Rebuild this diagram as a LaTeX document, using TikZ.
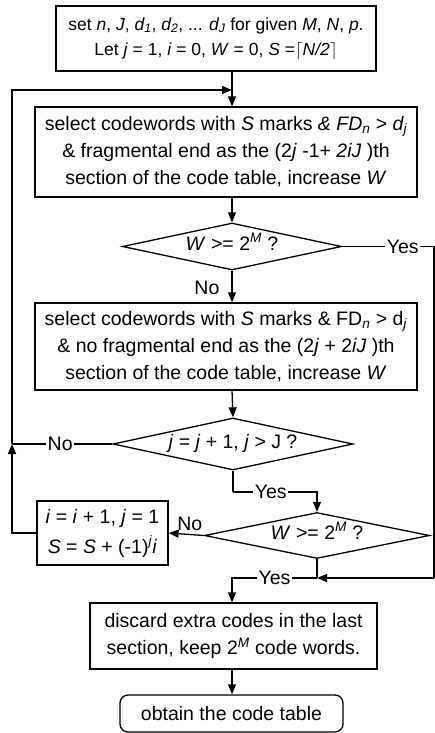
\documentclass[tikz,border=0pt]{standalone}
\usepackage{fontspec}
\setmainfont{Liberation Sans}
\usetikzlibrary{shapes.geometric,arrows.meta}
\newcommand{\iv}[1]{\textit{#1}}
\begin{document}
\begin{tikzpicture}[x=1pt,y=-1pt]
    % styles for the flow chart
    \tikzstyle{every node}=[font=\fontsize{19.5}{27}\selectfont, inner sep=0pt]
    \tikzstyle{procbox}=[draw, line width=1.3pt, align=center]
    \tikzstyle{testbox}=[draw, diamond, line width=1.3pt, align=center, text height=12pt, text depth=4pt]
    \tikzstyle{endbox}=[draw, rounded corners=8pt, line width=1.3pt, align=center]
    \tikzstyle{flow}=[line width=1.3pt, -{Triangle[length=10pt,width=8pt]}]
    \tikzstyle{plain}=[line width=1.3pt]
    \tikzstyle{lbl}=[fill=white, inner xsep=1.5pt]
    \useasboundingbox (0,0) rectangle (435,733);

    % process boxes
    \node[procbox, minimum width=320, minimum height=65, font=\fontsize{17.5}{25}\selectfont] (init) at (216,38.5)
        {set \iv{n}, \iv{J}, \iv{d\textsubscript{1}}, \iv{d\textsubscript{2}}, ... \iv{d\textsubscript{J}} for given \iv{M}, \iv{N}, \iv{p}.\\
         Let \iv{j} = 1, \iv{i} = 0, \iv{W} = 0, \iv{S} =$\lceil$\iv{N/2}$\rceil$};
    \node[procbox, minimum width=382, minimum height=90] (selA) at (226,152)
        {select codewords with \iv{S} marks \iv{\& FD\textsubscript{n}} > \iv{d\textsubscript{j}}\\
         \& fragmental end as the (2\iv{j} -1+ \iv{2iJ} )th\\
         section of the code table, increase \iv{W}};
    \node[testbox, aspect=4.66, minimum width=219, minimum height=47] (testA) at (232,246.5)
        {\iv{W} >= 2\textsuperscript{\iv{M}} ?};
    \node[procbox, minimum width=382, minimum height=87] (selB) at (226,346.5)
        {select codewords with \iv{S} marks \& FD\textsubscript{\iv{n}} > d\textsubscript{\iv{j}}\\
         \& no fragmental end as the (2\iv{j} + 2\iv{iJ} )th\\
         section of the code table, increase \iv{W}};
    \node[testbox, aspect=4.6, minimum width=240, minimum height=52] (testB) at (233,444)
        {\iv{j} = \iv{j} + 1, \iv{j} > J ?};
    \node[testbox, aspect=4.9, minimum width=225, minimum height=46] (testC) at (317,535.5)
        {\iv{W} >= 2\textsuperscript{\iv{M}} ?};
    \node[procbox, minimum width=131, minimum height=64, font=\fontsize{19.5}{30}\selectfont] (incr) at (102.5,533)
        {\iv{i} = \iv{i} + 1, \iv{j} = 1\\ \iv{S} = \iv{S} + (-1)\textsuperscript{\iv{j}}\iv{i}};
    \node[procbox, minimum width=287, minimum height=66] (trim) at (233.5,636)
        {discard extra codes in the last\\ section, keep 2\textsuperscript{\iv{M}} code words.};
    \node[endbox, minimum width=223, minimum height=37] (done) at (231.5,713.5)
        {obtain the code table};

    % helper points of the loops
    \coordinate (loopTop) at (232,90);
    \coordinate (loopLeft) at (12,444);
    \coordinate (rightTop) at (434,246.5);
    \coordinate (rightBot) at (434,578);
    \coordinate (joinB) at (233,492);
    \coordinate (joinC) at (317,578);

    % main column
    \draw[flow] (init.south -| loopTop) -- (selA.north -| loopTop);
    \draw[flow] (selA.south -| testA) -- (testA.north);
    \draw[flow] (testA.south) -- node[left=12pt, pos=0.55] {No} (selB.north -| testA);
    \draw[flow] (selB.south -| testA) -- (testB.north);
    \draw[plain] (testB.south) -- (joinB);
    \draw[flow] (joinB) -- node[lbl, pos=0.45] {Yes} (joinB -| testC) -- (testC.north);
    \draw[flow] (testC.west) -- node[above=3pt, pos=0.4] {No} (incr.east);
    \draw[plain] (testC.south) -- (joinC);
    \draw[flow] (joinC) -- node[lbl, pos=0.5] {Yes} (joinC -| loopTop) -- (trim.north -| loopTop);
    \draw[flow] (trim.south -| loopTop) -- (done.north -| loopTop);

    % loop back to the top
    \draw[flow] (incr.west) -| (loopLeft);
    \draw[plain] (testB.west) -- node[lbl, pos=0.52] {No} (loopLeft);
    \draw[flow] (loopLeft) |- (loopTop);

    % yes branch on the right
    \draw[plain] (testA.east) -- node[lbl, pos=0.66] {Yes} (rightTop) -- (rightBot);
    \draw[flow] (rightBot) -- (joinC);
\end{tikzpicture}
\end{document}
